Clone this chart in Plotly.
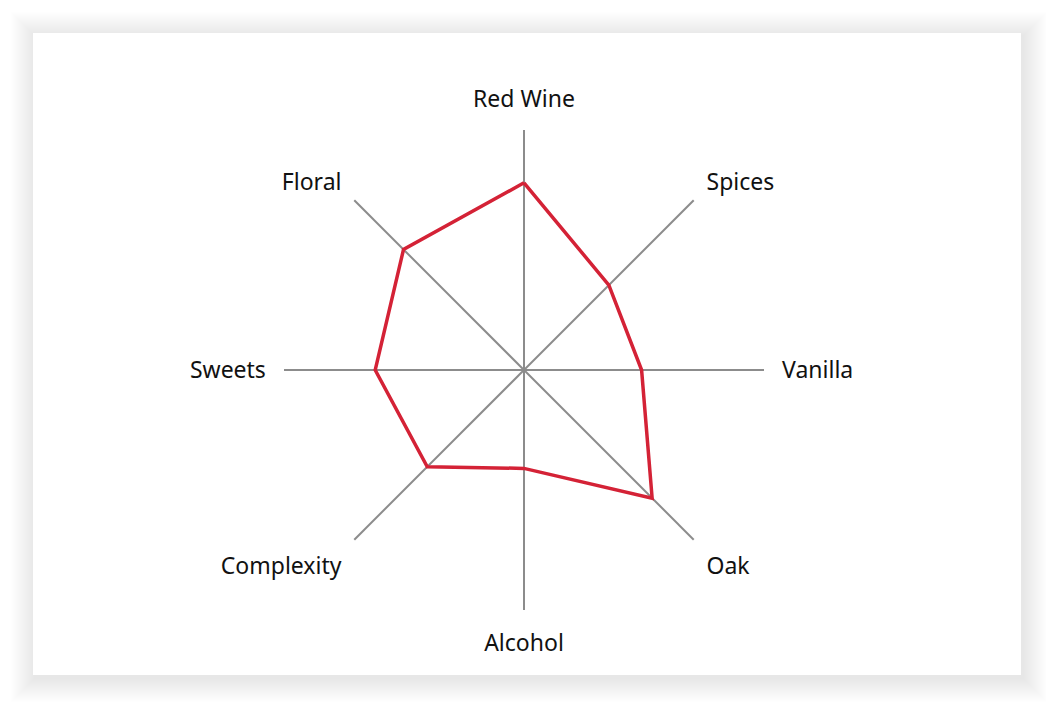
import plotly.graph_objects as go

# flavour profile of the wine
categories = ['Red Wine', 'Spices', 'Vanilla', 'Oak', 'Alcohol', 'Complexity', 'Sweets', 'Floral']
scores = [7.8, 5.0, 4.9, 7.55, 4.1, 5.7, 6.2, 7.1]

# page body has an 8px margin, so the figure is drawn that much smaller / shifted
OFF = 8
W, H = 1054 - OFF, 708 - OFF

# close the polygon
r = scores + scores[:1]
theta = categories + categories[:1]

fig = go.Figure()
fig.add_trace(go.Scatterpolar(r=r, theta=theta, mode='lines',
                              line=dict(color='#d42236', width=3.5),
                              hoverinfo='skip', showlegend=False))


def px_x(v):
    return (v - OFF) / W


def px_y(v):
    return 1 - (v - OFF) / H


# soft shadow round the white card, then the card itself
shapes = []
for i in range(24, 0, -1):
    shapes.append(dict(type='rect', xref='paper', yref='paper', layer='below',
                       x0=px_x(33 - i + 2), x1=px_x(1021 + i + 2),
                       y0=px_y(675 + i + 3), y1=px_y(33 - i + 3),
                       fillcolor='rgba(0,0,0,0.005)', line_width=0))
shapes.append(dict(type='rect', xref='paper', yref='paper', layer='below',
                   x0=px_x(33), x1=px_x(1021), y0=px_y(675), y1=px_y(33),
                   fillcolor='white', line_width=0))

cx, cy, rad = 524, 370, 240
fig.update_layout(
    width=W, height=H,
    margin=dict(l=0, r=0, t=0, b=0),
    paper_bgcolor='white',
    font=dict(family='Noto Sans, Lato, sans-serif', size=23, color='#111111'),
    shapes=shapes,
    polar=dict(
        domain=dict(x=[px_x(cx - rad), px_x(cx + rad)],
                    y=[px_y(cy + rad), px_y(cy - rad)]),
        bgcolor='rgba(0,0,0,0)',
        radialaxis=dict(range=[0, 10], showgrid=False, showline=False,
                        showticklabels=False, ticks=''),
        angularaxis=dict(direction='clockwise', rotation=90, showline=False,
                         gridcolor='#8c8c8c', gridwidth=2,
                         ticks='outside', ticklen=13, tickcolor='rgba(0,0,0,0)'),
    ),
)

fig.write_html("out.html")
